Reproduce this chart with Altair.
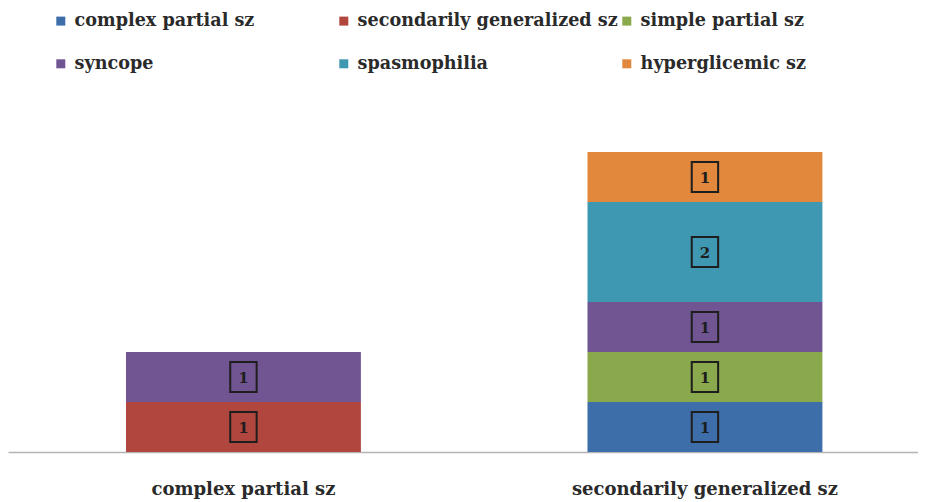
import altair as alt
import pandas as pd

categories = ["complex partial sz", "secondarily generalized sz"]
series = ["complex partial sz", "secondarily generalized sz", "simple partial sz",
          "syncope", "spasmophilia", "hyperglicemic sz"]
colors = ["#3d6eaa", "#b0463e", "#8aa94c", "#705592", "#3e98b2", "#e2883c"]
values_complex_partial = [0, 1, 0, 1, 0, 0]
values_secondarily_generalized = [1, 0, 1, 1, 2, 1]

rows = []
for cat, vals in zip(categories, [values_complex_partial, values_secondarily_generalized]):
    for i, (s, v) in enumerate(zip(series, vals)):
        if v > 0:
            rows.append({"category": cat, "series": s, "order": i, "value": v})
df = pd.DataFrame(rows)

FONT = "DejaVu Serif"

xenc = alt.X(
    "category:N",
    sort=categories,
    title=None,
    scale=alt.Scale(paddingInner=0.491, paddingOuter=0.2314, align=0.5524),
    axis=alt.Axis(
        labelAngle=0, ticks=False, tickSize=0, labelPadding=28,
        labelFont=FONT, labelFontSize=18, labelFontWeight="bold", labelColor="#2a2a2a",
        domainColor="#b4b4b4", domainWidth=1.5, grid=False, labelLimit=400,
    ),
)

base = alt.Chart(df).transform_stack(
    stack="value", groupby=["category"], as_=["y0", "y1"], sort=[alt.SortField("order")]
).transform_calculate(mid="(datum.y0 + datum.y1) / 2")

bars = base.mark_bar().encode(
    x=xenc,
    y=alt.Y("y0:Q", scale=alt.Scale(domain=[0, 6]), axis=None),
    y2="y1:Q",
    color=alt.Color(
        "series:N",
        scale=alt.Scale(domain=series, range=colors),
        legend=alt.Legend(
            title=None, orient="none", legendX=44, legendY=-140, columns=3,
            direction="horizontal",
            gridAlign="all", columnPadding=-12, rowPadding=24,
            symbolType="square", symbolSize=81, symbolStrokeWidth=0,
            symbolOpacity=1, labelOffset=5,
            labelFont=FONT, labelFontSize=17.6, labelFontWeight="bold",
            labelColor="#2a2a2a", labelLimit=400,
        ),
    ),
)

box_shape = "M-0.88,-1 L0.88,-1 L0.88,1 L-0.88,1 Z"
boxes = base.mark_point(
    shape=box_shape, size=900, filled=False, stroke="#1e1e1e", strokeWidth=2, opacity=1
).encode(x=xenc, y=alt.Y("mid:Q"))

texts = base.mark_text(
    font=FONT, fontSize=15, fontWeight="bold", color="#1e1e1e", baseline="middle", dy=1
).encode(x=xenc, y=alt.Y("mid:Q"), text="value:Q")

chart = alt.layer(bars, boxes, texts).properties(
    width=910, height=300,
    background="white",
    autosize=alt.AutoSizeParams(type="none"),
    padding={"left": 0, "top": 144, "right": 0, "bottom": 52},
).configure_view(strokeWidth=0, stroke=None)

chart.save("out.html", embed_options={"renderer": "svg", "actions": False})
